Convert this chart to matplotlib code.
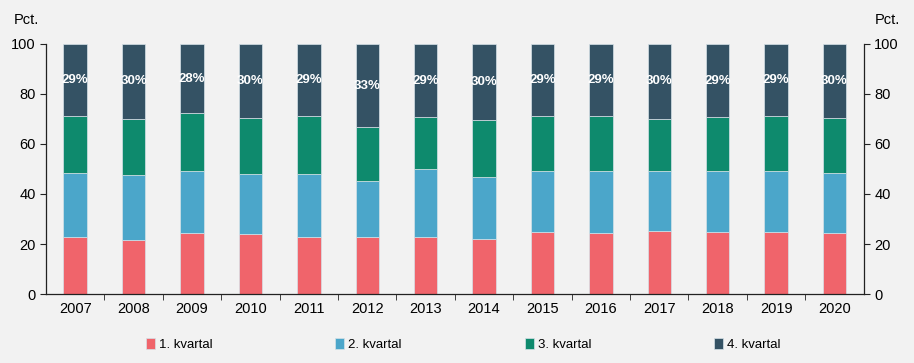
import matplotlib.pyplot as plt
import numpy as np

# Share of yearly total per quarter (pct.)
years = ["2007", "2008", "2009", "2010", "2011", "2012", "2013",
         "2014", "2015", "2016", "2017", "2018", "2019", "2020"]
q1 = [22.9, 21.5, 24.3, 24.1, 22.9, 22.9, 22.7, 22.0, 24.7, 24.4, 25.3, 24.9, 24.8, 24.3]
q2 = [25.5, 26.1, 24.9, 24.0, 25.0, 22.2, 27.3, 24.8, 24.5, 24.9, 23.9, 24.3, 24.4, 24.1]
q3 = [22.8, 22.4, 23.1, 22.2, 23.2, 21.6, 20.7, 22.8, 21.9, 21.9, 20.8, 21.4, 21.9, 21.9]
q4 = [28.8, 30.0, 27.7, 29.7, 28.9, 33.3, 29.3, 30.4, 28.9, 28.8, 30.0, 29.4, 28.9, 29.7]

labels = ["1. kvartal", "2. kvartal", "3. kvartal", "4. kvartal"]
colors = ["#F0646B", "#4BA6CA", "#0E8A6D", "#345264"]
bg = "#F2F2F2"

plt.rcParams['font.family'] = ['Liberation Sans', 'DejaVu Sans']

fig = plt.figure(figsize=(9.14, 3.63), dpi=100, facecolor=bg)
ax = fig.add_axes([0.0503, 0.19, 0.8947, 0.689], facecolor=bg)

x = np.arange(len(years))
bottom = np.zeros(len(years))
for vals, lab, col in zip([q1, q2, q3, q4], labels, colors):
    ax.bar(x, vals, width=0.4, bottom=bottom, color=col, label=lab,
           edgecolor="#D6E2E8", linewidth=0.5)
    bottom += np.array(vals)

# percentage labels inside the 4th quarter segment
base4 = np.array(q1) + np.array(q2) + np.array(q3)
for xi, b, v in zip(x, base4, q4):
    ax.text(xi, b + v / 2, f"{round(v):.0f}%", ha="center", va="center",
            color="white", fontsize=9.5, fontweight="bold")

ax.set_xlim(-0.5, len(years) - 0.5)
ax.set_ylim(0, 100)
ax.set_yticks(range(0, 101, 20))
ax.set_xticks(x)
ax.set_xticklabels(years)
ax.set_xticks(np.arange(0.5, len(years) - 1, 1), minor=True)
ax.tick_params(axis="x", which="major", length=0, pad=6, labelsize=10.5)
ax.tick_params(axis="x", which="minor", length=4, direction="out", color="#222222")
ax.tick_params(axis="y", which="major", length=4, direction="out", labelsize=10.5,
               left=True, right=True, labelleft=True, labelright=True, color="#222222")
ax.spines["top"].set_visible(False)
for s in ["left", "right", "bottom"]:
    ax.spines[s].set_color("#222222")
    ax.spines[s].set_linewidth(0.9)

fig.text(0.015, 0.944, "Pct.", fontsize=10.5, ha="left", va="center")
fig.text(0.985, 0.944, "Pct.", fontsize=10.5, ha="right", va="center")

handles, labs = ax.get_legend_handles_labels()
fig.legend(handles, labs, loc="center", bbox_to_anchor=(0.5068, 0.05), ncol=4,
           frameon=False, fontsize=9.5, handlelength=0.7, handleheight=0.9,
           handletextpad=0.3, columnspacing=9.3)

fig.savefig("out.png", dpi=100, facecolor=bg)
